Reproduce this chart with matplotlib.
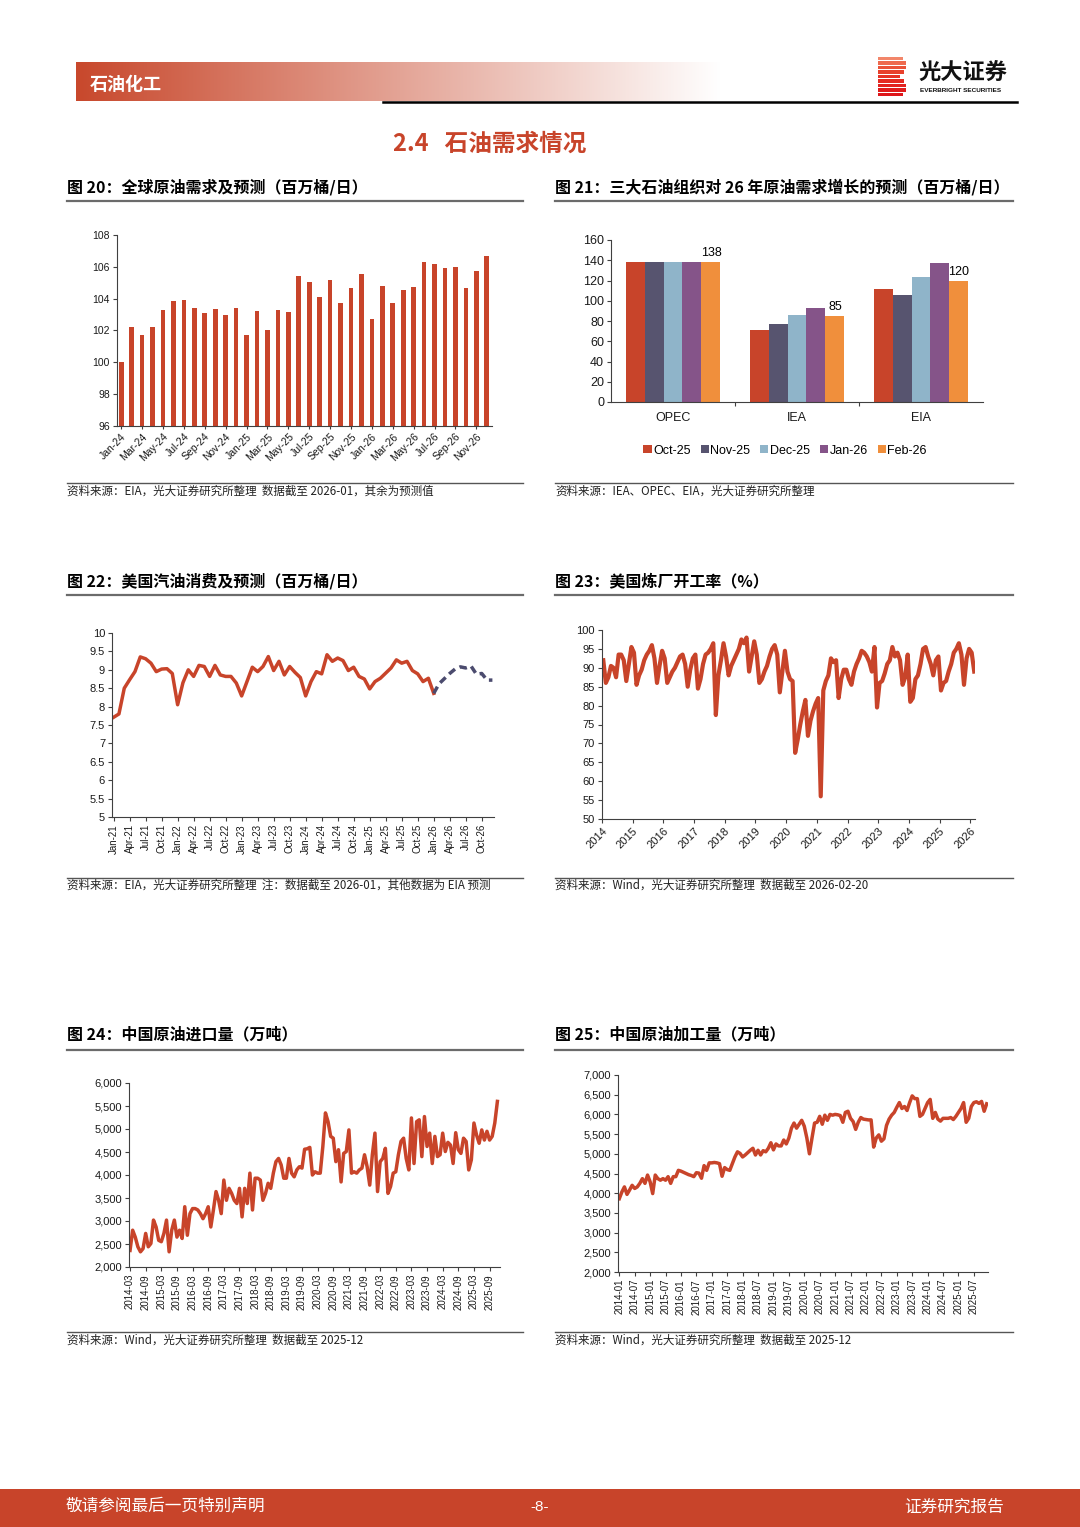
# -*- coding: utf-8 -*-
# 光大证券 石油化工 第8页：石油需求情况（六图）
import numpy as np
import pandas as pd
import matplotlib
matplotlib.use('Agg')
import matplotlib.pyplot as plt
from matplotlib.lines import Line2D
from matplotlib.patches import Rectangle
from matplotlib.ticker import FuncFormatter

plt.rcParams['font.family'] = ['Liberation Sans', 'Noto Sans CJK SC', 'DejaVu Sans']
CJK = ['Noto Sans CJK SC', 'DejaVu Sans']

RED = '#C8442A'
AXC = '#404040'

# ---------------- 数据 ----------------
# 图20 全球原油需求（百万桶/日），2024-01 ~ 2026-12
MONTHS = ['Jan', 'Feb', 'Mar', 'Apr', 'May', 'Jun', 'Jul', 'Aug', 'Sep', 'Oct', 'Nov', 'Dec']
labels20 = [f'{m}-{y}' for y in ('24', '25', '26') for m in MONTHS]
demand20 = [100.0, 102.2, 101.7, 102.2, 103.3, 103.85, 103.9, 103.4, 103.1, 103.35, 103.0, 103.4,
            101.7, 103.2, 102.05, 103.3, 103.15, 105.4, 105.05, 104.1, 105.2, 103.75, 104.65, 105.55,
            102.7, 104.8, 103.75, 104.55, 104.75, 106.3, 106.15, 105.95, 106.0, 104.7, 105.75, 106.7]

# 图21 三大机构对26年需求增长预测（万桶/日）
orgs21 = ['OPEC', 'IEA', 'EIA']
series21 = ['Oct-25', 'Nov-25', 'Dec-25', 'Jan-26', 'Feb-26']
oct25 = [138, 71, 112]
nov25 = [138, 77, 106]
dec25 = [138, 86, 123]
jan26 = [138, 93, 137]
feb26 = [138, 85, 120]
colors21 = ['#C8442A', '#57546F', '#8FB4C9', '#855489', '#F08F3C']

# 图22 美国汽油消费（百万桶/日），2021-01 ~ 2026-12
labels22 = [f'{m}-{y}' for y in ('21', '22', '23', '24', '25', '26') for m in MONTHS]
gas_actual = [7.71, 7.80, 8.50, 8.73, 8.95, 9.35, 9.30, 9.18, 8.95, 9.02, 9.03, 8.90,
              8.05, 8.65, 9.00, 8.82, 9.12, 9.09, 8.82, 9.12, 8.86, 8.82, 8.82, 8.64,
              8.29, 8.68, 9.07, 8.95, 9.09, 9.36, 8.98, 9.23, 8.86, 9.09, 8.93, 8.79,
              8.29, 8.68, 8.95, 8.89, 9.41, 9.23, 9.32, 9.25, 8.98, 9.07, 8.82, 8.75,
              8.48, 8.68, 8.77, 8.91, 9.05, 9.27, 9.18, 9.23, 8.98, 8.89, 8.68, 8.77,
              8.36]
gas_forecast = [8.36, 8.62, 8.76, 8.90, 9.02, 9.08, 9.05, 9.10, 8.88, 8.90, 8.72, 8.72]

# 图23 美国炼厂开工率（%），2014-01 ~ 2026-02 月度
refinery_util = [
    92, 86, 87.5, 90.5, 90, 87.5, 93.5, 93.5, 92, 86.5, 91, 95.5,      # 2014
    94, 85.5, 88, 89.5, 92, 93.5, 94.5, 96, 92.5, 86, 90.5, 94.5,      # 2015
    92.5, 86, 87.5, 89, 90, 91.5, 93, 93.5, 91, 85, 89.5, 92.5,        # 2016
    93.5, 84.5, 87, 91, 93.5, 94, 95, 96.5, 77.5, 88, 92, 96.5,        # 2017
    93, 88, 90.5, 92, 93.5, 95, 97.5, 96.5, 98, 89, 93, 97,            # 2018
    93.5, 86, 87, 89, 90.5, 93, 95, 96, 93.5, 83.5, 89, 94.5,          # 2019
    89, 87, 86.5, 67.5, 71, 75, 78.5, 81.5, 72, 76, 78.5, 80.5,        # 2020
    82, 56, 84, 86.5, 88, 92.5, 91.5, 92, 82, 87, 89.5, 89.5,          # 2021
    87, 85.5, 89, 91, 92.5, 94.5, 94, 93, 91.5, 89, 95.5, 79.5,        # 2022
    86, 86.5, 88.5, 91, 92, 95.5, 93, 94, 92, 85.5, 87.5, 93.5,        # 2023
    81, 82, 87, 88, 91, 95, 95.5, 93, 91, 88, 92, 93,                  # 2024
    84, 86, 86.5, 89, 91, 94, 95, 96.5, 93.5, 85.5, 92.5, 95,          # 2025
    94, 89,                                                            # 2026
]

# 图24 中国原油进口量（万吨），2014-03 ~ 2025-12
imports24 = [
    2360, 2800, 2650, 2440, 2330, 2400, 2730, 2440, 2510, 3020,
    2870, 2580, 2550, 2730, 3020, 2330, 2800, 3020, 2650, 2800, 2620, 3310,
    2690, 3160, 3270, 3270, 3240, 3160, 3050, 3160, 3310, 2870, 3240, 3640,
    3450, 3160, 3890, 3450, 3710, 3600, 3450, 3380, 3710, 3090, 3710, 3380,
    4040, 3240, 3930, 3930, 3890, 3450, 3600, 3820, 3710, 4040, 4290, 4360,
    4220, 3930, 3930, 4360, 4040, 3960, 4110, 4180, 4150, 4560, 4570, 4600,
    4000, 4070, 4040, 4040, 4620, 5350, 5160, 4840, 4800, 4290, 4550, 3850,
    4470, 4510, 4980, 4040, 4070, 4040, 4110, 4150, 4440, 4180, 3780, 4440,
    4910, 3640, 4290, 4360, 4580, 3600, 3750, 4040, 4070, 4440, 4730, 4800,
    4360, 4110, 5240, 4250, 5160, 5200, 4400, 5270, 4620, 4910, 4250, 4840,
    4400, 4440, 4910, 4510, 4710, 4650, 4250, 4920, 4550, 4470, 4800, 4730,
    4110, 4330, 5130, 4870, 4690, 4980, 4760, 4950, 4760, 4840, 5130, 5600,
]

# 图25 中国原油加工量（万吨），2014-01 ~ 2025-12
runs25 = [
    3860, 4030, 4160, 3970, 4080, 4200, 4120, 4160, 4250, 4370, 4250, 4460,
    4290, 3990, 4460, 4370, 4330, 4370, 4330, 4420, 4250, 4420, 4420, 4580,
    4560, 4530, 4500, 4470, 4450, 4420, 4520, 4510, 4380, 4700, 4580, 4770,
    4770, 4780, 4770, 4750, 4430, 4650, 4600, 4580, 4750, 4920, 5050, 5010,
    4920, 4970, 5030, 5090, 5140, 4970, 5090, 4970, 5080, 5050, 5140, 5280,
    5100, 5250, 5200, 5200, 5350, 5250, 5400, 5650, 5780, 5650, 5750, 5850,
    5700, 5400, 5000, 5400, 5780, 5800, 5950, 5750, 5980, 5850, 6000, 5980,
    6000, 5990, 5970, 5800, 6050, 6080, 5900, 5820, 5620, 5800, 5920, 5880,
    5870, 5860, 5860, 5170, 5400, 5480, 5320, 5380, 5720, 5880, 5980, 6050,
    6180, 6300, 6150, 6200, 6100, 6300, 6470, 6400, 6400, 5950, 6000, 6150,
    6300, 6380, 5900, 6050, 5880, 5830, 5900, 5900, 5900, 5920, 5870, 5950,
    6050, 6150, 6300, 5800, 5900, 6200, 6300, 6320, 6280, 6330, 6080, 6270,
]

# ---------------- 画布 ----------------
W, H = 1080, 1527
fig = plt.figure(figsize=(W / 100, H / 100), dpi=100)


def fx(x):
    return x / W


def fy(y):
    return 1 - y / H


def px_axes(x0, y0, x1, y1):
    return fig.add_axes([fx(x0), fy(y1), (x1 - x0) / W, (y1 - y0) / H])


def hline(x0, x1, y, lw, color):
    fig.add_artist(Line2D([fx(x0), fx(x1)], [fy(y), fy(y)], transform=fig.transFigure,
                          lw=lw, color=color))


def style_axes(ax, fs):
    for s in ['top', 'right']:
        ax.spines[s].set_visible(False)
    for s in ['left', 'bottom']:
        ax.spines[s].set_color(AXC)
        ax.spines[s].set_linewidth(0.8)
    ax.tick_params(axis='both', labelsize=fs, color=AXC, length=3, width=0.8, pad=2,
                   labelcolor='#1a1a1a')


thousands = FuncFormatter(lambda v, _: f'{v:,.0f}')

# 页眉
ax_h = px_axes(76, 62, 720, 101)
c0 = np.array([200, 72, 44]) / 255
t = np.linspace(0, 1, 400)[:, None]
grad = c0 * (1 - t) + np.ones(3) * t
ax_h.imshow(grad[None, :, :], aspect='auto', extent=[0, 1, 0, 1])
ax_h.axis('off')
fig.text(fx(90), fy(84), '石油化工', color='white', fontsize=13, fontweight='bold',
         family=CJK, va='center', ha='left')
hline(383, 1017, 102, 1.8, 'black')

# logo
stripe_w = [25, 28, 28, 26, 22, 26, 28, 28, 25]
stripe_c = ['#F2866A', '#EE6A4E', '#EA5238', '#E8402C', '#E63226', '#E42A22', '#E2221F', '#E01C1C', '#DE161A']
for k, (sw, sc) in enumerate(zip(stripe_w, stripe_c)):
    y0 = 57 + k * 4.45
    fig.add_artist(Rectangle((fx(878), fy(y0 + 3.4)), sw / W, 3.4 / H, transform=fig.transFigure,
                             color=sc, lw=0))
fig.text(fx(918), fy(73), '光大证券', fontsize=16, fontweight='bold', family=CJK,
         va='center', ha='left', color='#111111')
fig.text(fx(920), fy(90), 'EVERBRIGHT SECURITIES', fontsize=4.6, fontweight='bold',
         va='center', ha='left', color='#111111')

fig.text(fx(490), fy(144), '2.4   石油需求情况', fontsize=17, fontweight='bold', family=CJK,
         color=RED, ha='center', va='center')

# 图标题与来源
titles = [(67, 187, '图 20：全球原油需求及预测（百万桶/日）'),
          (555, 187, '图 21：三大石油组织对 26 年原油需求增长的预测（百万桶/日）'),
          (67, 581, '图 22：美国汽油消费及预测（百万桶/日）'),
          (555, 581, '图 23：美国炼厂开工率（%）'),
          (67, 1034, '图 24：中国原油进口量（万吨）'),
          (555, 1034, '图 25：中国原油加工量（万吨）')]
for x, y, s in titles:
    fig.text(fx(x), fy(y), s, fontsize=11.5, fontweight='bold', family=CJK, va='center', ha='left')

sources = [(67, 491, '资料来源：EIA，光大证券研究所整理  数据截至 2026-01，其余为预测值'),
           (555, 491, '资料来源：IEA、OPEC、EIA，光大证券研究所整理'),
           (67, 885, '资料来源：EIA，光大证券研究所整理  注：数据截至 2026-01，其他数据为 EIA 预测'),
           (555, 885, '资料来源：Wind，光大证券研究所整理  数据截至 2026-02-20'),
           (67, 1340, '资料来源：Wind，光大证券研究所整理  数据截至 2025-12'),
           (555, 1340, '资料来源：Wind，光大证券研究所整理  数据截至 2025-12')]
for x, y, s in sources:
    fig.text(fx(x), fy(y), s, fontsize=8.3, family=CJK, va='center', ha='left', color='#222222')

for y in (201, 595, 1050):
    hline(67, 523, y, 1.6, '#6b6b6b')
    hline(555, 1013, y, 1.6, '#6b6b6b')
for y in (483, 878, 1332):
    hline(67, 523, y, 1.0, '#555555')
    hline(555, 1013, y, 1.0, '#555555')

# ---------------- 图20 ----------------
ax20 = px_axes(117, 235, 492, 426)
style_axes(ax20, 7.5)
x20 = np.arange(len(demand20))
ax20.bar(x20, demand20, width=0.45, color=RED)
ax20.set_ylim(96, 108)
ax20.set_yticks(np.arange(96, 109, 2))
ax20.set_xlim(-0.4, 35.5)
ax20.set_xticks(x20[::2])
ax20.set_xticklabels(labels20[::2], rotation=45, ha='right', rotation_mode='anchor', fontsize=7.5)
ax20.tick_params(axis='x', length=2)

# ---------------- 图21 ----------------
ax21 = px_axes(611, 240, 983, 402)
style_axes(ax21, 9)
g = np.arange(len(orgs21))
bw = 0.153
for k, (name, vals) in enumerate(zip(series21, [oct25, nov25, dec25, jan26, feb26])):
    bars = ax21.bar(g + (k - 2) * bw, vals, width=bw, color=colors21[k], label=name)
    if name == 'Feb-26':
        for b, v in zip(bars, vals):
            ax21.annotate(f'{v}', (b.get_x() + b.get_width() / 2, v), xytext=(0, 2),
                          textcoords='offset points', ha='center', va='bottom', fontsize=9)
ax21.set_ylim(0, 160)
ax21.set_yticks(np.arange(0, 161, 20))
ax21.set_xlim(-0.5, 2.5)
ax21.set_xticks(g)
ax21.set_xticklabels(orgs21, fontsize=9)
ax21.set_xticks([0.5, 1.5], minor=True)
ax21.tick_params(axis='x', which='major', length=0, pad=7)
ax21.tick_params(axis='x', which='minor', length=3, color=AXC, width=0.8)
ax21.legend(ncol=5, loc='center', bbox_to_anchor=(0.468, -0.30), frameon=False, fontsize=9,
            handlelength=0.65, handleheight=0.65, handletextpad=0.12, columnspacing=0.8,
            borderaxespad=0)

# ---------------- 图22 ----------------
ax22 = px_axes(112, 633, 494, 817)
style_axes(ax22, 8)
x22 = np.arange(len(labels22))
ax22.plot(x22[:len(gas_actual)], gas_actual, color=RED, lw=2.5, solid_joinstyle='round')
ax22.plot(x22[len(gas_actual) - 1:], gas_forecast, color='#4B4B6E', lw=2.5,
          linestyle=(0, (2.2, 1.4)))
ax22.set_ylim(5, 10)
ax22.set_yticks(np.arange(5, 10.01, 0.5))
ax22.yaxis.set_major_formatter(FuncFormatter(lambda v, _: f'{v:g}'))
ax22.set_xlim(-0.3, 71.3)
ax22.set_xticks(x22[::3])
ax22.set_xticklabels(labels22[::3], rotation=90, fontsize=7)

# ---------------- 图23 ----------------
ax23 = px_axes(602, 630, 975, 819)
style_axes(ax23, 8)
t23 = 2014 + (np.arange(len(refinery_util)) + 0.5) / 12
ax23.plot(t23, refinery_util, color=RED, lw=3.0, solid_joinstyle='round')
ax23.set_ylim(50, 100)
ax23.set_yticks(np.arange(50, 101, 5))
ax23.set_xlim(2014, 2026.15)
ax23.set_xticks(np.arange(2014, 2027))
ax23.set_xticklabels([str(y) for y in range(2014, 2027)], rotation=45, ha='right',
                     rotation_mode='anchor', fontsize=8)

# ---------------- 图24 ----------------
ax24 = px_axes(129, 1083, 500, 1267)
style_axes(ax24, 8)
lab24 = pd.period_range('2014-03', periods=len(imports24), freq='M').strftime('%Y-%m')
x24 = np.arange(len(imports24))
ax24.plot(x24, imports24, color=RED, lw=2.5, solid_joinstyle='round')
ax24.set_ylim(2000, 6000)
ax24.set_yticks(np.arange(2000, 6001, 500))
ax24.yaxis.set_major_formatter(thousands)
ax24.set_xlim(-0.4, 142)
ax24.set_xticks(x24[::6])
ax24.set_xticklabels(list(lab24[::6]), rotation=90, fontsize=7)

# ---------------- 图25 ----------------
ax25 = px_axes(618, 1075, 988, 1272)
style_axes(ax25, 8)
lab25 = pd.period_range('2014-01', periods=len(runs25), freq='M').strftime('%Y-%m')
x25 = np.arange(len(runs25))
ax25.plot(x25, runs25, color=RED, lw=2.5, solid_joinstyle='round')
ax25.set_ylim(2000, 7000)
ax25.set_yticks(np.arange(2000, 7001, 500))
ax25.yaxis.set_major_formatter(thousands)
ax25.set_xlim(-0.5, 143.5)
ax25.set_xticks(x25[::6])
ax25.set_xticklabels(list(lab25[::6]), rotation=90, fontsize=7)

# 页脚
fig.add_artist(Rectangle((0, 0), 1, (H - 1489) / H, transform=fig.transFigure, color='#C8442A', lw=0))
fig.text(fx(66), fy(1507), '敬请参阅最后一页特别声明', color='white', fontsize=12, family=CJK,
         va='center', ha='left')
fig.text(fx(540), fy(1507), '-8-', color='white', fontsize=11, va='center', ha='center')
fig.text(fx(1004), fy(1507), '证券研究报告', color='white', fontsize=12, family=CJK,
         va='center', ha='right')

fig.savefig('out.png', dpi=100)
